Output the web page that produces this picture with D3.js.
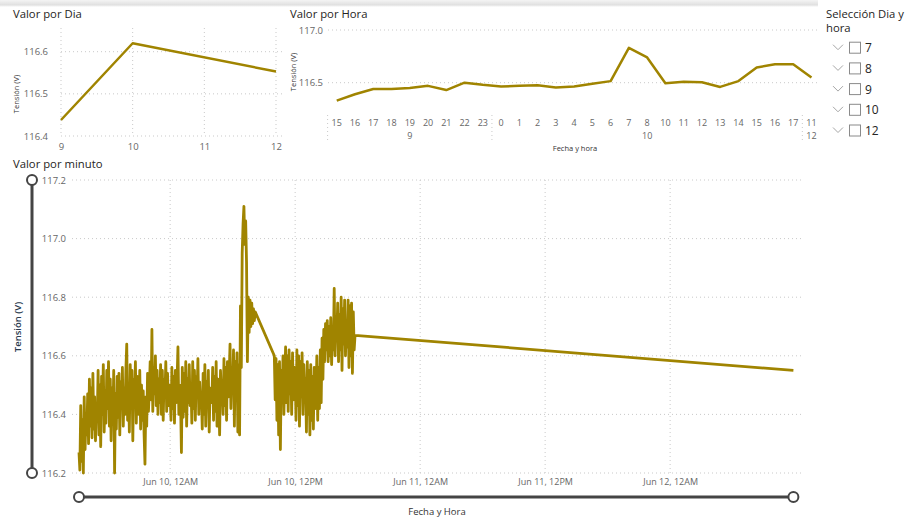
<!DOCTYPE html>
<html>
<head>
<meta charset="utf-8">
<script src="https://cdn.jsdelivr.net/npm/d3@7"></script>
<style>
  body { margin: 0; background: #fff; }
  svg { display: block; }
  text { font-family: 'Segoe UI', 'Open Sans', sans-serif; }
</style>
</head>
<body>
<svg id="board" width="911" height="522"></svg>
<script>
// ---- Daily averages ----
const dayKeys = [9, 10, 12];
const dayValues = [116.438, 116.62, 116.553];
const dayTicks = [9, 10, 11, 12];

// ---- Hourly averages (hour of day + day of month) ----
const hourHours = [15,16,17,18,19,20,21,22,23, 0,1,2,3,4,5,6,7,8,10,11,12,13,14,15,16,17, 11];
const hourDays  = [9,9,9,9,9,9,9,9,9, 10,10,10,10,10,10,10,10,10,10,10,10,10,10,10,10,10, 12];
const hourValues = [116.33,116.39,116.44,116.44,116.45,116.47,116.43,116.50,116.48,
                    116.465,116.47,116.475,116.455,116.465,116.49,116.515,116.83,116.74,
                    116.495,116.51,116.505,116.46,116.515,116.645,116.675,116.675,
                    116.55];
const hourTicks = [116.5, 117.0];

// ---- Per-minute readings, one value every 5 minutes from each start ----
const minuteStepMin = 5;
const minuteStarts = ["2023-06-09T15:15", "2023-06-10T10:00", "2023-06-12T11:50"];
const minuteRun1 = [
  // 15h
  116.27,116.21,116.43,116.24,116.38,116.20,116.46,116.28,116.40,
  // 16h
  116.33,116.47,116.30,116.52,116.36,116.49,116.32,116.54,116.35,116.46,116.31,116.42,
  // 17h
  116.38,116.55,116.33,116.50,116.29,116.53,116.40,116.57,116.34,116.48,116.37,116.55,
  // 18h
  116.42,116.58,116.36,116.52,116.31,116.49,116.38,116.55,116.20,116.47,116.35,116.53,
  // 19h
  116.39,116.54,116.33,116.51,116.42,116.56,116.36,116.49,116.40,116.55,116.64,116.38,
  // 20h
  116.50,116.34,116.57,116.42,116.55,116.31,116.52,116.45,116.58,116.37,116.53,116.44,
  // 21h
  116.40,116.55,116.35,116.50,116.38,116.48,116.33,116.23,116.46,116.36,116.54,116.41,
  // 22h
  116.48,116.58,116.45,116.69,116.41,116.56,116.47,116.60,116.43,116.55,116.40,116.52,
  // 23h
  116.44,116.57,116.40,116.55,116.38,116.52,116.46,116.58,116.41,116.54,116.43,116.50,
  // 0h
  116.47,116.38,116.56,116.42,116.53,116.37,116.55,116.44,116.52,116.63,116.40,116.50,
  // 1h
  116.45,116.27,116.56,116.39,116.54,116.41,116.58,116.36,116.52,116.44,116.57,116.43,
  // 2h
  116.50,116.37,116.58,116.42,116.55,116.38,116.53,116.46,116.59,116.40,116.51,116.44,
  // 3h
  116.47,116.35,116.54,116.40,116.57,116.36,116.51,116.43,116.55,116.34,116.49,116.45,
  // 4h
  116.44,116.56,116.38,116.53,116.41,116.58,116.36,116.52,116.45,116.33,116.55,116.47,
  // 5h
  116.50,116.40,116.59,116.43,116.56,116.38,116.58,116.46,116.53,116.64,116.42,116.55,
  // 6h
  116.48,116.62,116.36,116.58,116.45,116.61,116.34,116.57,116.33,116.77,116.56,116.95,
  // 7h
  117.05,117.11,116.98,117.06,116.92,116.58,116.80,116.68,116.79,116.70,116.78,116.71,
  // 8h
  116.76,116.72,116.75
];
const minuteRun2 = [
  // 10h
  116.60,116.45,116.59,116.38,116.57,116.33,116.58,116.28,116.55,116.44,116.60,116.40,
  // 11h
  116.52,116.63,116.44,116.60,116.41,116.62,116.47,116.58,116.40,116.61,116.45,116.56,
  // 12h
  116.55,116.38,116.62,116.43,116.60,116.36,116.58,116.46,116.61,116.40,116.57,116.48,
  // 13h
  116.52,116.34,116.58,116.40,116.55,116.33,116.57,116.38,116.53,116.35,116.56,116.42,
  // 14h
  116.45,116.60,116.38,116.56,116.42,116.62,116.44,116.66,116.52,116.69,116.58,116.71,
  // 15h
  116.62,116.72,116.58,116.70,116.60,116.73,116.57,116.68,116.62,116.83,116.60,116.71,
  // 16h
  116.66,116.78,116.58,116.74,116.62,116.80,116.55,116.76,116.64,116.79,116.60,116.72,
  // 17h
  116.63,116.79,116.56,116.77,116.60,116.78,116.54,116.75,116.62,116.67
];
const minuteRun3 = [116.55];
const minuteTicks = [116.2, 116.4, 116.6, 116.8, 117.0, 117.2];

const slicerItems = ["7", "8", "9", "10", "12"];

// ---- shared styling ----
const LINE = "#a08400";
const GRID = "#c9c9c9";
const TICK = "#666666";
const TITLE = "#252423";
const TITLE_SIZE = "11.3px";

const svg = d3.select("#board");

// header shadow strip
const defs = svg.append("defs");
const grad = defs.append("linearGradient").attr("id", "hdr").attr("x1", 0).attr("y1", 0).attr("x2", 0).attr("y2", 1);
grad.append("stop").attr("offset", "0%").attr("stop-color", "#f4f4f4");
grad.append("stop").attr("offset", "70%").attr("stop-color", "#e0e0e0");
grad.append("stop").attr("offset", "100%").attr("stop-color", "#ffffff");
svg.append("rect").attr("x", 0).attr("y", 0).attr("width", 818).attr("height", 7).attr("fill", "url(#hdr)");

function styleAxis(g, size) {
  g.select(".domain").remove();
  g.selectAll(".tick line").remove();
  g.selectAll("text").attr("fill", TICK).style("font-size", size + "px");
}
function dotted(sel) {
  return sel.attr("stroke", GRID).attr("stroke-width", 1).attr("stroke-dasharray", "1,3");
}

// ================= Valor por Dia =================
{
  const x = d3.scaleLinear().domain([9, 12]).range([61, 276]);
  const y = d3.scaleLinear().domain([116.4, 116.6]).range([136, 51.7]);
  const g = svg.append("g");
  g.append("text").attr("x", 13).attr("y", 18).attr("fill", TITLE)
    .style("font-size", TITLE_SIZE).text("Valor por Dia");
  dayTicks.forEach(d => dotted(g.append("line")).attr("x1", x(d)).attr("x2", x(d)).attr("y1", 28).attr("y2", 136));
  [116.4, 116.5, 116.6].forEach(v => dotted(g.append("line")).attr("x1", 61).attr("x2", 284).attr("y1", y(v)).attr("y2", y(v)));
  const ya = g.append("g").attr("transform", "translate(54,0)")
    .call(d3.axisLeft(y).tickValues([116.4, 116.5, 116.6]).tickFormat(d3.format(".1f")).tickSize(0).tickPadding(6));
  styleAxis(ya, 9.5);
  const xa = g.append("g").attr("transform", "translate(0,139)")
    .call(d3.axisBottom(x).tickValues(dayTicks).tickFormat(d3.format("d")).tickSize(0).tickPadding(4));
  styleAxis(xa, 9.5);
  g.append("text").attr("transform", "translate(19,94) rotate(-90)").attr("text-anchor", "middle")
    .attr("fill", "#333").style("font-size", "7.5px").text("Tensión (V)");
  g.append("path").datum(dayKeys.map((d, i) => [d, dayValues[i]]))
    .attr("fill", "none").attr("stroke", LINE).attr("stroke-width", 2.5).attr("stroke-linejoin", "round")
    .attr("d", d3.line().x(d => x(d[0])).y(d => y(d[1])));
}

// ================= Valor por Hora =================
{
  const idx = hourHours.map((_, i) => i);
  const x = d3.scaleBand().domain(idx).range([327.6, 820.6]);
  const cx = i => x(i) + x.bandwidth() / 2;
  const y = d3.scaleLinear().domain([116.5, 117.0]).range([82.7, 30]);
  const g = svg.append("g");
  g.append("text").attr("x", 290).attr("y", 18).attr("fill", TITLE)
    .style("font-size", TITLE_SIZE).text("Valor por Hora");
  hourTicks.forEach(v => dotted(g.append("line")).attr("x1", 328).attr("x2", 818).attr("y1", y(v)).attr("y2", y(v)));
  const ya = g.append("g").attr("transform", "translate(329,0)")
    .call(d3.axisLeft(y).tickValues(hourTicks).tickFormat(d3.format(".1f")).tickSize(0).tickPadding(6));
  styleAxis(ya, 9.5);
  const xa = g.append("g").attr("transform", "translate(0,116)")
    .call(d3.axisBottom(x).tickFormat(i => hourHours[i]).tickSize(0).tickPadding(4));
  styleAxis(xa, 9);
  // day groups: separators and centred day label
  const groups = d3.groups(idx, i => hourDays[i]);
  const seps = [0];
  groups.forEach(([day, members]) => {
    const first = members[0], last = members[members.length - 1];
    g.append("text").attr("x", (cx(first) + cx(last)) / 2).attr("y", 139)
      .attr("text-anchor", "middle").attr("fill", TICK).style("font-size", "9px").text(day);
    seps.push(last + 1);
  });
  seps.slice(0, -1).forEach(s => {
    const xs = x(s);
    dotted(g.append("line")).attr("x1", xs).attr("x2", xs).attr("y1", 115).attr("y2", 143);
  });
  g.append("text").attr("x", 575).attr("y", 151).attr("text-anchor", "middle")
    .attr("fill", "#333").style("font-size", "7.5px").text("Fecha y hora");
  g.append("text").attr("transform", "translate(296,72) rotate(-90)").attr("text-anchor", "middle")
    .attr("fill", "#333").style("font-size", "7.5px").text("Tensión (V)");
  g.append("path").datum(idx)
    .attr("fill", "none").attr("stroke", LINE).attr("stroke-width", 2.5).attr("stroke-linejoin", "round")
    .attr("d", d3.line().x(i => cx(i)).y(i => y(hourValues[i])));
}

// ================= Slicer =================
{
  const g = svg.append("g");
  g.append("text").attr("x", 826).attr("y", 18).attr("fill", TITLE).style("font-size", TITLE_SIZE).text("Selección Dia y");
  g.append("text").attr("x", 826).attr("y", 32).attr("fill", TITLE).style("font-size", TITLE_SIZE).text("hora");
  const ys = d3.scalePoint().domain(slicerItems).range([47.7, 130.5]);
  slicerItems.forEach(k => {
    const cy = ys(k);
    g.append("path").attr("d", `M833,${cy - 3} L838,${cy + 2} L843,${cy - 3}`)
      .attr("fill", "none").attr("stroke", "#a6a6a6").attr("stroke-width", 1);
    g.append("rect").attr("x", 849.5).attr("y", cy - 5.5).attr("width", 11).attr("height", 11)
      .attr("fill", "#fff").attr("stroke", "#8a8a8a").attr("stroke-width", 1);
    g.append("text").attr("x", 865).attr("y", cy + 4.5).attr("fill", TITLE).style("font-size", "12px").text(k);
  });
}

// ================= Valor por minuto =================
{
  const parse = d3.timeParse("%Y-%m-%dT%H:%M");
  const runs = [minuteRun1, minuteRun2, minuteRun3];
  const data = [];
  runs.forEach((vals, r) => {
    const t0 = parse(minuteStarts[r]);
    vals.forEach((v, i) => data.push({ t: d3.timeMinute.offset(t0, i * minuteStepMin), v }));
  });
  const x = d3.scaleTime().domain(d3.extent(data, d => d.t)).range([79, 793.4]);
  const y = d3.scaleLinear().domain([116.2, 117.2]).range([473, 180]);
  const g = svg.append("g");
  g.append("text").attr("x", 13).attr("y", 168).attr("fill", TITLE)
    .style("font-size", TITLE_SIZE).text("Valor por minuto");

  const xTicks = d3.timeHour.every(12).range(d3.timeDay.ceil(x.domain()[0]), x.domain()[1]);
  xTicks.forEach(t => dotted(g.append("line")).attr("x1", x(t)).attr("x2", x(t)).attr("y1", 180).attr("y2", 473));
  minuteTicks.forEach(v => dotted(g.append("line")).attr("x1", 72).attr("x2", 801).attr("y1", y(v)).attr("y2", y(v)));

  const ya = g.append("g").attr("transform", "translate(72,0)")
    .call(d3.axisLeft(y).tickValues(minuteTicks).tickFormat(d3.format(".1f")).tickSize(0).tickPadding(6));
  styleAxis(ya, 9.5);
  const xa = g.append("g").attr("transform", "translate(0,475)")
    .call(d3.axisBottom(x).tickValues(xTicks).tickFormat(d3.timeFormat("%b %-d, %-I%p")).tickSize(0).tickPadding(4));
  styleAxis(xa, 9);

  g.append("text").attr("transform", "translate(21,327) rotate(-90)").attr("text-anchor", "middle")
    .attr("fill", "#2a3a4e").style("font-size", "9.5px").style("font-weight", "600").text("Tensión (V)");
  g.append("text").attr("x", 437).attr("y", 515).attr("text-anchor", "middle")
    .attr("fill", "#333").style("font-size", "9.5px").text("Fecha y Hora");

  // range sliders
  const SL = "#444444";
  g.append("line").attr("x1", 32).attr("x2", 32).attr("y1", y(117.2)).attr("y2", y(116.2))
    .attr("stroke", SL).attr("stroke-width", 3);
  [117.2, 116.2].forEach(v => g.append("circle").attr("cx", 32).attr("cy", y(v)).attr("r", 5)
    .attr("fill", "#fff").attr("stroke", SL).attr("stroke-width", 2));
  g.append("line").attr("x1", x.range()[0]).attr("x2", x.range()[1]).attr("y1", 497).attr("y2", 497)
    .attr("stroke", SL).attr("stroke-width", 3);
  x.range().forEach(px => g.append("circle").attr("cx", px).attr("cy", 497).attr("r", 5)
    .attr("fill", "#fff").attr("stroke", SL).attr("stroke-width", 2));

  g.append("path").datum(data)
    .attr("fill", "none").attr("stroke", LINE).attr("stroke-width", 2.8).attr("stroke-linejoin", "round")
    .attr("d", d3.line().x(d => x(d.t)).y(d => y(d.v)));
}
</script>
</body>
</html>
